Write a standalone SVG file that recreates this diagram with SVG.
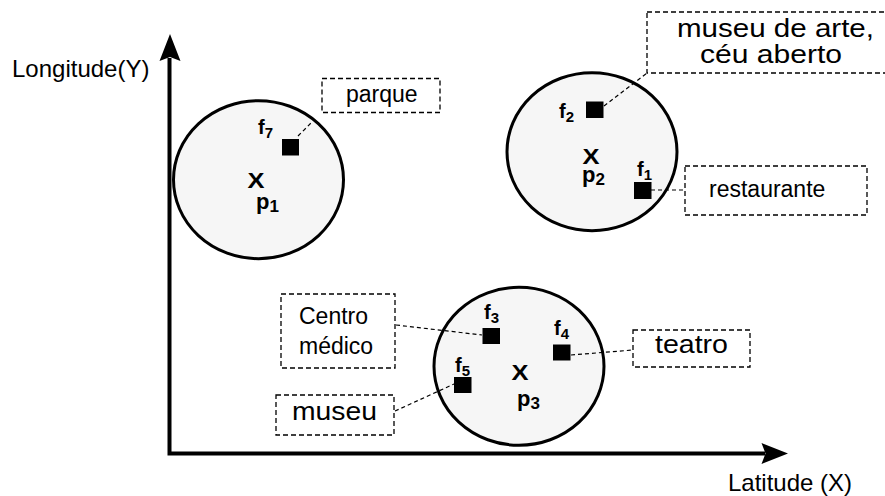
<svg xmlns="http://www.w3.org/2000/svg" width="885" height="496" viewBox="0 0 885 496">
<style>
.zone{fill:#f6f6f6;stroke:#000;stroke-width:3}
.feat{fill:#000}
.box{fill:none;stroke:#000;stroke-width:1.3;stroke-dasharray:5 3}
.lbl{font-family:"Liberation Sans",Arial,sans-serif;font-size:23px;fill:#000}
.wide{font-size:25px}
.ax{font-family:"Liberation Sans",Arial,sans-serif;font-size:24px;fill:#000}
.f{font-family:"Liberation Sans",Arial,sans-serif;font-size:20px;font-weight:bold;fill:#000}
.p{font-family:"Liberation Sans",Arial,sans-serif;font-size:22px;font-weight:bold;fill:#000}
.x{font-family:"Liberation Sans",Arial,sans-serif;font-size:22px;font-weight:bold;fill:#000;text-anchor:middle}
.sf{font-size:15px}
.sp{font-size:17px}
.con{stroke:#000;stroke-width:1.2;stroke-dasharray:4 3;fill:none}
.axis{stroke:#000;stroke-width:4;fill:none}
</style>
<rect width="885" height="496" fill="#fff"/>
<g id="axes">
<polyline class="axis" points="169.5,58 169.5,453.5 765,453.5"/>
<polygon points="170,34 180.5,61 170,57 159.5,61" fill="#000"/>
<polygon points="788,453.5 761.5,443 765.5,453.5 761.5,464" fill="#000"/>
<text class="ax" x="12" y="77">Longitude(Y)</text>
<text class="ax" x="728" y="491">Latitude (X)</text>
</g>
<g id="zone-p1">
<ellipse class="zone" cx="258.5" cy="179.7" rx="85" ry="79"/>
<text class="x" x="256" y="188" textLength="17" lengthAdjust="spacingAndGlyphs">X</text>
<text class="p" x="256" y="209">p<tspan class="sp" dy="3">1</tspan></text>
</g>
<g id="zone-p2">
<ellipse class="zone" cx="592" cy="151.7" rx="85" ry="79"/>
<text class="x" x="591" y="163.5" textLength="17" lengthAdjust="spacingAndGlyphs">X</text>
<text class="p" x="582" y="181.5">p<tspan class="sp" dy="3">2</tspan></text>
</g>
<g id="zone-p3">
<ellipse class="zone" cx="519" cy="366.3" rx="85" ry="79"/>
<text class="x" x="520" y="380" textLength="17" lengthAdjust="spacingAndGlyphs">X</text>
<text class="p" x="517" y="406">p<tspan class="sp" dy="3">3</tspan></text>
</g>
<g id="connectors">
<line class="con" x1="298" y1="136" x2="312" y2="122"/>
<line class="con" x1="604" y1="106" x2="647" y2="73"/>
<line class="con" x1="651" y1="190" x2="685" y2="190"/>
<line class="con" x1="396" y1="325" x2="482" y2="335"/>
<line class="con" x1="571" y1="355" x2="633" y2="350"/>
<line class="con" x1="395" y1="411" x2="454" y2="384"/>
</g>
<g id="f7">
<rect class="feat" x="282" y="139" width="17" height="16.5"/>
<text class="f" x="258" y="134">f<tspan class="sf" dy="4">7</tspan></text>
</g>
<g id="f2">
<rect class="feat" x="586" y="101.5" width="17.5" height="16.5"/>
<text class="f" x="559" y="118">f<tspan class="sf" dy="4">2</tspan></text>
</g>
<g id="f1">
<rect class="feat" x="634" y="182" width="17.5" height="17"/>
<text class="f" x="637" y="176">f<tspan class="sf" dy="4">1</tspan></text>
</g>
<g id="f3">
<rect class="feat" x="482.5" y="328" width="17.5" height="16"/>
<text class="f" x="484" y="319">f<tspan class="sf" dy="4">3</tspan></text>
</g>
<g id="f4">
<rect class="feat" x="553" y="344.5" width="17.5" height="16"/>
<text class="f" x="554" y="335">f<tspan class="sf" dy="4">4</tspan></text>
</g>
<g id="f5">
<rect class="feat" x="454" y="377" width="17.5" height="16"/>
<text class="f" x="455" y="372">f<tspan class="sf" dy="4">5</tspan></text>
</g>
<g id="label-parque">
<rect class="box" x="322" y="78.5" width="118" height="34"/>
<text class="lbl" x="346" y="102">parque</text>
</g>
<g id="label-museu-arte">
<rect class="box" x="647" y="12" width="250" height="61"/>
<text class="lbl wide" x="677" y="37" textLength="197" lengthAdjust="spacingAndGlyphs">museu de arte,</text>
<text class="lbl wide" x="700" y="62.5" textLength="142" lengthAdjust="spacingAndGlyphs">céu aberto</text>
</g>
<g id="label-restaurante">
<rect class="box" x="685" y="166" width="182" height="49"/>
<text class="lbl" x="709" y="197">restaurante</text>
</g>
<g id="label-centro">
<rect class="box" x="281" y="294" width="114" height="74"/>
<text class="lbl" x="299" y="323.5">Centro</text>
<text class="lbl" x="299" y="354">médico</text>
</g>
<g id="label-teatro">
<rect class="box" x="633" y="330" width="117" height="37"/>
<text class="lbl wide" x="655" y="353" textLength="73" lengthAdjust="spacingAndGlyphs">teatro</text>
</g>
<g id="label-museu">
<rect class="box" x="276" y="395" width="118" height="40"/>
<text class="lbl wide" x="292" y="420" textLength="85" lengthAdjust="spacingAndGlyphs">museu</text>
</g>
</svg>
